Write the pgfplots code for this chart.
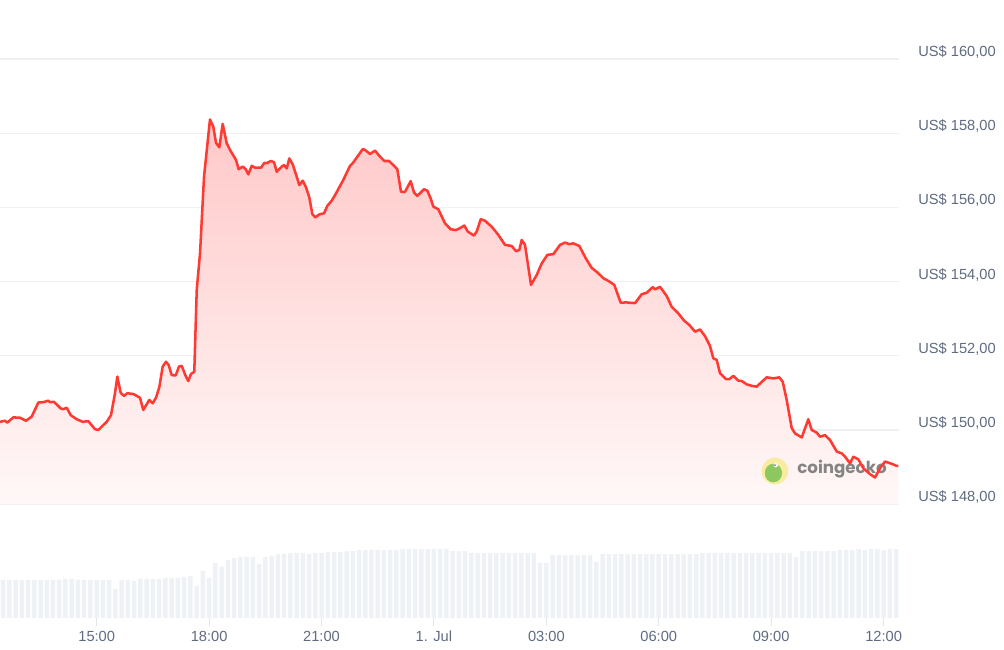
\documentclass[border=0pt]{standalone}
\usepackage{fontspec}
\setmainfont{Liberation Sans}
\newfontfamily\cgfont{Poppins}
\usepackage{pgfplots}
\pgfplotsset{compat=1.18}
\usepackage{pgfplotstable}
\definecolor{cgred}{RGB}{255,58,51}
\definecolor{lbl}{RGB}{94,107,128}
\definecolor{gridc}{RGB}{239,240,243}
\definecolor{vol}{RGB}{238,241,245}
\definecolor{tickc}{RGB}{226,229,234}
\definecolor{fillt}{RGB}{255,200,200}
\definecolor{fillb}{RGB}{255,248,248}
\definecolor{geckoy}{RGB}{249,236,160}
\definecolor{geckog}{RGB}{140,200,95}
\definecolor{geckot}{RGB}{120,120,120}

\pgfplotstableread{
h p
0.419 150.22
0.552 150.25
0.614 150.20
0.774 150.34
0.953 150.33
1.113 150.25
1.265 150.36
1.441 150.74
1.575 150.75
1.708 150.79
1.753 150.75
1.860 150.76
2.039 150.58
2.108 150.56
2.199 150.60
2.306 150.40
2.466 150.29
2.626 150.22
2.776 150.24
2.954 150.02
3.042 150.00
3.267 150.22
3.381 150.40
3.488 150.99
3.550 151.44
3.640 151.00
3.728 150.92
3.816 150.99
3.977 150.97
4.067 150.92
4.155 150.87
4.243 150.54
4.403 150.81
4.494 150.72
4.582 150.87
4.670 151.15
4.761 151.71
4.849 151.84
4.921 151.75
5.001 151.48
5.108 151.47
5.196 151.71
5.268 151.73
5.364 151.48
5.444 151.32
5.516 151.51
5.604 151.57
5.669 153.77
5.757 154.76
5.864 156.83
6.023 158.37
6.112 158.17
6.184 157.74
6.272 157.62
6.362 158.25
6.469 157.73
6.557 157.55
6.717 157.28
6.789 157.03
6.896 157.10
6.976 157.03
7.046 156.89
7.136 157.12
7.225 157.07
7.384 157.07
7.473 157.20
7.537 157.19
7.643 157.25
7.731 157.22
7.804 156.96
7.937 157.10
7.998 157.14
8.071 157.05
8.140 157.32
8.231 157.16
8.337 156.83
8.407 156.60
8.497 156.72
8.586 156.54
8.673 156.27
8.754 155.82
8.834 155.73
8.941 155.81
9.066 155.84
9.154 156.04
9.271 156.18
9.360 156.33
9.581 156.74
9.760 157.12
9.832 157.19
10.099 157.57
10.160 157.55
10.294 157.44
10.427 157.53
10.542 157.39
10.675 157.25
10.801 157.25
10.916 157.14
11.022 157.03
11.121 156.42
11.228 156.42
11.380 156.71
11.468 156.40
11.556 156.31
11.735 156.49
11.823 156.45
11.913 156.24
11.983 156.02
12.116 155.95
12.295 155.57
12.447 155.41
12.589 155.39
12.695 155.44
12.810 155.51
12.901 155.35
13.069 155.24
13.141 155.35
13.248 155.68
13.362 155.64
13.541 155.48
13.718 155.26
13.896 154.99
14.075 154.96
14.190 154.82
14.278 154.85
14.342 155.12
14.430 154.99
14.590 153.91
14.743 154.18
14.876 154.49
15.026 154.72
15.186 154.74
15.365 154.99
15.498 155.05
15.613 155.01
15.720 155.03
15.880 154.96
16.050 154.63
16.210 154.37
16.370 154.24
16.520 154.09
16.653 154.02
16.813 153.91
16.984 153.43
17.126 153.44
17.232 153.43
17.366 153.42
17.545 153.66
17.678 153.70
17.838 153.85
17.900 153.79
18.033 153.86
18.212 153.61
18.345 153.32
18.506 153.16
18.674 152.95
18.815 152.83
18.967 152.65
19.101 152.71
19.234 152.53
19.368 152.26
19.456 151.93
19.546 151.89
19.635 151.53
19.795 151.37
19.883 151.37
19.990 151.46
20.123 151.33
20.214 151.32
20.347 151.23
20.480 151.19
20.614 151.17
20.720 151.27
20.881 151.42
21.057 151.39
21.217 151.42
21.308 151.30
21.414 150.81
21.548 150.05
21.636 149.91
21.815 149.80
21.991 150.29
22.082 150.00
22.215 149.93
22.303 149.82
22.437 149.86
22.570 149.73
22.749 149.42
22.882 149.37
22.971 149.28
23.104 149.10
23.192 149.28
23.325 149.21
23.459 148.97
23.638 148.81
23.771 148.72
23.905 148.97
24.038 149.15
24.217 149.09
24.351 149.03
24.394 149.03
}\pricedata

\pgfplotstableread{
v
38
38
38
38
38
38
38
38
38
38
39
39
38
38
38
38
38
38
29
38
38
37
39
39
39
39
40
40
40
41
42
32
47
40
55
51
58
60
61
61
61
54
61
62
64
64
65
65
65
64
65
65
66
66
66
67
67
68
68
68
68
68
68
68
69
69
69
69
69
69
69
69
67
67
67
65
65
65
65
65
65
65
65
65
65
65
55
55
63
63
63
63
63
63
63
56
64
64
64
64
64
64
64
64
64
64
64
64
64
64
64
64
65
65
65
65
65
65
65
65
65
65
65
65
65
65
65
61
67
67
67
67
67
67
68
68
68
69
68
69
69
68
69
69
}\voldata

\begin{document}
\begin{tikzpicture}[x=1pt,y=1pt]
\useasboundingbox (0,0) rectangle (753,487.5);
% volume axis
\begin{axis}[
  at={(0pt,24pt)}, anchor=south west, scale only axis,
  width=674.25pt, height=60pt,
  xmin=0.419, xmax=24.411, ymin=0, ymax=80,
  axis line style={draw=none},
  ytick=\empty,
  xtick={3,6,9,12,15,18,21,24},
  xticklabels={15:00,18:00,21:00,1. Jul,03:00,06:00,09:00,12:00},
  xtick pos=bottom, tick align=outside, major tick length=6pt,
  tick style={draw=tickc, line width=0.75pt},
  xticklabel style={font=\fontsize{11}{13}\selectfont, text=lbl, anchor=center, inner sep=0pt, yshift=-7.5pt},
  ybar, bar width=0.12,
]
\addplot[fill=vol, draw=none] table[x expr=0.5+\coordindex/6, y=v] {\voldata};
\end{axis}
% price axis (y measured above the US$ 148 baseline)
\begin{axis}[
  at={(0pt,109.35pt)}, anchor=south west, scale only axis,
  width=674.25pt, height=378.15pt,
  xmin=0.419, xmax=24.411, ymin=0, ymax=13.59,
  axis line style={draw=none},
  xtick=\empty,
  ytick={0,2,4,6,8,10,12},
  yticklabels={{US\$ 148,00},{US\$ 150,00},{US\$ 152,00},{US\$ 154,00},{US\$ 156,00},{US\$ 158,00},{US\$ 160,00}},
  yticklabel pos=right, major tick length=0pt,
  ymajorgrids, grid style={draw=gridc, line width=0.9pt},
  yticklabel style={font=\fontsize{11}{13}\selectfont, text=lbl, anchor=west, inner sep=0pt, xshift=14.25pt, yshift=5.25pt},
]
\addplot[draw=none, top color=fillt, bottom color=fillb] table[x=h, y expr=\thisrow{p}-148] {\pricedata} \closedcycle;
\fill[geckoy] (axis cs:21.1,0.895) circle[radius=10pt];
\fill[geckog] (axis cs:21.06,0.84) ellipse[x radius=6.5pt, y radius=7pt];
\fill[white] (axis cs:21.12,1.05) circle[radius=1.6pt];
\fill[gray] (axis cs:21.10,1.05) circle[radius=0.8pt];
\node[anchor=west, inner sep=0pt, text=geckot, opacity=0.9, font=\cgfont\bfseries\fontsize{12.5}{14}\selectfont] at (axis cs:21.69,0.95) {coingecko};
\addplot[cgred, line width=1.9pt, line join=round] table[x=h, y expr=\thisrow{p}-148] {\pricedata};
\end{axis}
\end{tikzpicture}
\end{document}
